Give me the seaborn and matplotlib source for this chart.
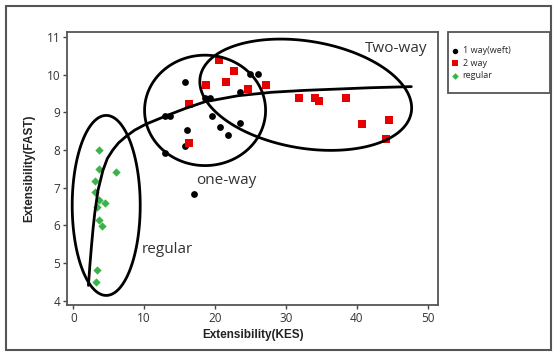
import numpy as np
import pandas as pd
import matplotlib
matplotlib.use("Agg")
import matplotlib.pyplot as plt
from matplotlib.patches import Rectangle, Polygon
import seaborn as sns

# --- measured extensibility values -------------------------------------
one_way_kes = [15.7, 25.0, 26.1, 18.6, 19.3, 23.5, 13.0, 13.7, 16.0, 19.6,
               20.7, 21.9, 23.5, 15.8, 12.9, 17.0]
one_way_fast = [9.81, 10.02, 10.02, 9.39, 9.39, 9.53, 8.90, 8.90, 8.52, 8.90,
                8.60, 8.41, 8.71, 8.10, 7.92, 6.82]

two_way_kes = [20.5, 22.7, 21.6, 18.8, 24.6, 27.2, 16.4, 16.4, 31.8, 34.1,
               34.7, 38.5, 40.7, 44.6, 44.1]
two_way_fast = [10.38, 10.10, 9.80, 9.71, 9.61, 9.71, 9.21, 8.19, 9.39, 9.39,
                9.30, 9.39, 8.70, 8.79, 8.30]

regular_kes = [3.6, 3.7, 6.1, 3.0, 3.0, 3.7, 4.5, 3.35, 3.6, 4.05, 3.3, 3.2]
regular_fast = [8.00, 7.49, 7.41, 7.18, 6.89, 6.67, 6.60, 6.49, 6.14, 5.98,
                4.81, 4.50]

group_labels = ["1 way(weft)", "2 way", "regular"]

# trend curve traced through the groups
trend_kes = [2.14, 2.35, 2.56, 2.8, 3.03, 3.49, 4.19, 4.8, 5.58, 6.4, 7.45,
             8.7, 10.2, 13.3, 15.8, 18.6, 23.3, 28.0, 32.6, 41.9, 47.7]
trend_fast = [4.41, 4.95, 5.43, 5.92, 6.32, 6.93, 7.46, 7.77, 8.00, 8.19,
              8.36, 8.53, 8.68, 8.92, 9.10, 9.28, 9.44, 9.53, 9.58, 9.65, 9.68]

x_ticks = [0, 10, 20, 30, 40, 50]
y_ticks = [4, 5, 6, 7, 8, 9, 10, 11]

# group outlines: centre (data), semi-axes (pixels), rotation (deg)
ring_regular = (4.65, 6.53, 34.0, 90.0, 0.0)
ring_one_way = (18.6, 9.05, 60.5, 55.2, 0.0)
ring_two_way = (32.8, 9.465, 107.0, 53.5, -9.5)

df = pd.DataFrame({
    "kes": one_way_kes + two_way_kes + regular_kes,
    "fast": one_way_fast + two_way_fast + regular_fast,
    "group": [group_labels[0]] * len(one_way_kes)
             + [group_labels[1]] * len(two_way_kes)
             + [group_labels[2]] * len(regular_kes),
})
trend = pd.DataFrame({"kes": trend_kes, "fast": trend_fast})

sns.set_style("white")
plt.rcParams["font.family"] = ["Open Sans", "DejaVu Sans"]

DPI = 100
fig = plt.figure(figsize=(5.55, 3.53), dpi=DPI)
ax = fig.add_axes([67.3 / 555, 1 - 305 / 353, (437.9 - 67.3) / 555, (305 - 32.3) / 353])

palette = {group_labels[0]: "#000000", group_labels[1]: "#e60000",
           group_labels[2]: "#3cb34a"}
markers = {group_labels[0]: "o", group_labels[1]: "s", group_labels[2]: "D"}
sizes = {group_labels[0]: 24, group_labels[1]: 28, group_labels[2]: 18}

for g in group_labels:
    sub = df[df["group"] == g]
    sns.scatterplot(data=sub, x="kes", y="fast", color=palette[g],
                    marker=markers[g], s=sizes[g], linewidth=0, ax=ax,
                    label=g, legend=False, zorder=3)

ax.set_xlim(-0.84, 51.45)
ax.set_ylim(3.89, 11.12)

sns.lineplot(data=trend, x="kes", y="fast", color="black", linewidth=2.0,
             ax=ax, sort=False, legend=False, zorder=4)


def draw_ring(cx, cy, rx, ry, angle):
    t = np.linspace(0, 2 * np.pi, 361)[:-1]
    ex, ey = rx * np.cos(t), ry * np.sin(t)
    th = np.deg2rad(angle)
    dx = ex * np.cos(th) - ey * np.sin(th)
    dy = ex * np.sin(th) + ey * np.cos(th)
    c = ax.transData.transform((cx, cy))
    pts = ax.transData.inverted().transform(np.column_stack([c[0] + dx, c[1] + dy]))
    ax.add_patch(Polygon(pts, closed=True, fill=False, edgecolor="black",
                         linewidth=2.0, zorder=5))


for ring in (ring_regular, ring_one_way, ring_two_way):
    draw_ring(*ring)

ax.text(45.5, 10.69, "Two-way", fontsize=11, color="#333333", ha="center", va="center")
ax.text(21.6, 7.2, "one-way", fontsize=11, color="#333333", ha="center", va="center")
ax.text(13.3, 5.36, "regular", fontsize=11, color="#333333", ha="center", va="center")

ax.set_xticks(x_ticks)
ax.set_yticks(y_ticks)
ax.tick_params(axis="both", which="major", direction="out", length=3, width=1,
               color="#444444", labelsize=8.5, labelcolor="#333333", pad=2,
               bottom=True, left=True)
for sp in ax.spines.values():
    sp.set_color("#555555")
    sp.set_linewidth(1.3)

ax.set_xlabel("Extensibility(KES)", fontsize=8.5, fontweight="bold",
              family="Liberation Sans", color="#222222", labelpad=3)
ax.set_ylabel("Extensibility(FAST)", fontsize=8.5, fontweight="bold",
              family="Liberation Sans", color="#222222", labelpad=8)

# legend in its own box to the right of the plot
handles, labels = ax.get_legend_handles_labels()
if ax.get_legend() is not None:
    ax.get_legend().remove()
fig.legend(handles, labels, loc="upper left",
           bbox_to_anchor=(450 / 555, 1 - 46 / 353), frameon=False,
           fontsize=6.5, handletextpad=0.2, labelspacing=0.4, markerscale=0.8,
           borderaxespad=0, borderpad=0, handlelength=1.2)
fig.patches.append(Rectangle((448 / 555, 1 - 93 / 353), 102 / 555, 61 / 353,
                             transform=fig.transFigure, fill=False,
                             edgecolor="#555555", linewidth=1.3))
# outer frame around the whole figure
fig.patches.append(Rectangle((6 / 555, 3 / 353), 545 / 555, 344 / 353,
                             transform=fig.transFigure, fill=False,
                             edgecolor="#555555", linewidth=1.5))

fig.savefig("out.png", dpi=DPI)
